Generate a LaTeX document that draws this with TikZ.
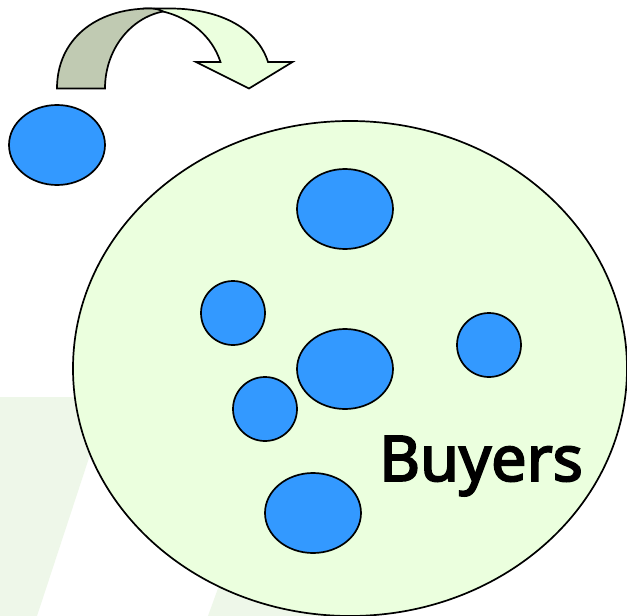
\documentclass[tikz,border=0pt]{standalone}
\usepackage{fontspec}
\setmainfont{Open Sans}
\newfontfamily\labelfont[FakeBold=3]{Noto Sans}
\usetikzlibrary{shapes.geometric}
\definecolor{leaf}{RGB}{235,255,222}
\definecolor{dot}{RGB}{51,153,255}
\definecolor{shade}{RGB}{192,202,178}
\definecolor{mark}{RGB}{238,247,233}
\tikzset{
  oval/.style={ellipse,draw=black,line width=1.7pt,inner sep=0pt,outer sep=0pt,fill=dot},
  bigoval/.style={oval,fill=leaf,minimum width=554pt,minimum height=495pt},
  wide/.style={oval,minimum width=96pt,minimum height=80pt},
  round/.style={oval,minimum width=64pt,minimum height=64pt},
  band/.style={draw=none,fill=mark},
  arrowpart/.style={draw=black,line width=1.7pt,line join=miter}
}
\begin{document}
\begin{tikzpicture}[x=1pt,y=-1pt]
\useasboundingbox (0,0) rectangle (627,616);
\fill[white] (0,0) rectangle (627,616);
\fill[band] (0,397) -- (109,397) -- (37,616) -- (0,616) -- cycle;
\fill[band] (250,500) -- (350,500) -- (350,616) -- (208,616) -- cycle;
\node[bigoval] (field) at (350,368.5) {};
\node[wide] (a) at (57,145) {};
\node[wide] (b) at (345,209) {};
\node[round] (c) at (233,313) {};
\node[wide] (d) at (345,369) {};
\node[round] (e) at (489,345) {};
\node[round] (f) at (265,409) {};
\node[wide] (g) at (313,513) {};
\node[font=\labelfont\fontsize{63pt}{65pt}\selectfont,anchor=center,inner sep=0pt] (label) at (481,466) {Buyers};
\draw[arrowpart,fill=leaf] (150,8.5) -- (170,8.5) .. controls (222,8.5) and (258,30) .. (268,62) -- (292.5,62) -- (249,88.5) -- (196,62) -- (220.5,62) .. controls (212,36) and (190,18) .. (163,11.5) -- cycle;
\draw[arrowpart,fill=shade] (57,88.5) .. controls (57,40) and (95,8.5) .. (150,8.5) .. controls (155,8.5) and (160,9.5) .. (163,11.5) .. controls (130,18) and (105,50) .. (105,88.5) -- cycle;
\end{tikzpicture}
\end{document}
